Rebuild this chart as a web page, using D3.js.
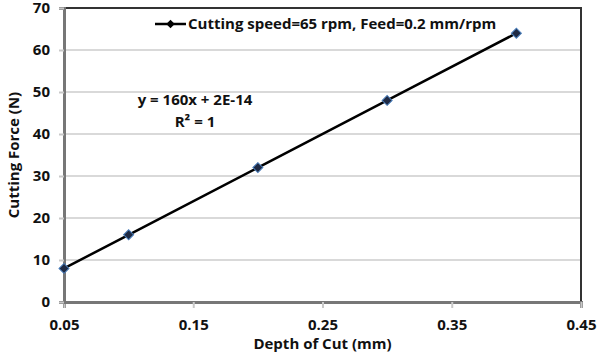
<!DOCTYPE html>
<html>
<head>
<meta charset="utf-8">
<script src="https://cdn.jsdelivr.net/npm/d3@7"></script>
<style>
  body { margin: 0; background: #fff; }
  text { font-family: "Open Sans", "DejaVu Sans", sans-serif; font-weight: bold; fill: #111; }
</style>
</head>
<body>
<div class="chart-container"></div>
<script>
// Data
var depthOfCut = [0.05, 0.1, 0.2, 0.3, 0.4];
var cuttingForce = [8, 16, 32, 48, 64];
var xTicks = [0.05, 0.15, 0.25, 0.35, 0.45];
var yTicks = [0, 10, 20, 30, 40, 50, 60, 70];
var seriesName = "Cutting speed=65 rpm, Feed=0.2 mm/rpm";
var trendLines = ["y = 160x + 2E-14", "R² = 1"];

// Set Margin
var margin = { top: 8, right: 17, bottom: 61, left: 64 },
    width = 598 - margin.left - margin.right,
    height = 363 - margin.top - margin.bottom;

var x = d3.scaleLinear().domain([0.05, 0.45]).range([0, width]);
var y = d3.scaleLinear().domain([0, 70]).range([height, 0]);

var svg = d3.select('.chart-container').append("svg")
    .attr("width", 598)
    .attr("height", 363)
    .append("g")
    .attr("transform", "translate(" + margin.left + "," + margin.top + ")");

// gridlines
svg.selectAll(".grid")
    .data(yTicks.slice(1))
    .enter().append("line")
    .attr("x1", 0).attr("x2", width)
    .attr("y1", function(d) { return y(d); })
    .attr("y2", function(d) { return y(d); })
    .attr("stroke", "#b3b3b3")
    .attr("stroke-width", 1);

// plot frame
svg.append("rect")
    .attr("width", width).attr("height", height)
    .attr("fill", "none")
    .attr("stroke", "#333")
    .attr("stroke-width", 2);

// x axis
var xAxis = svg.append("g")
    .attr("transform", "translate(0," + height + ")")
    .call(d3.axisBottom(x).tickValues(xTicks).tickFormat(d3.format(".2f")).tickSize(6).tickPadding(11));
xAxis.select(".domain").attr("stroke", "#777").attr("stroke-width", 3);
xAxis.selectAll(".tick line").attr("stroke", "#c8c8c8").attr("stroke-width", 2);
xAxis.selectAll("text").style("font-size", "15px").attr("fill", "#111");

// y axis
var yAxis = svg.append("g")
    .call(d3.axisLeft(y).tickValues(yTicks).tickSize(5).tickPadding(9));
yAxis.select(".domain").attr("stroke", "#777").attr("stroke-width", 3);
yAxis.selectAll(".tick line").attr("stroke", "#c8c8c8").attr("stroke-width", 2);
yAxis.selectAll("text").style("font-size", "15px").attr("fill", "#111");

// line
var pts = depthOfCut.map(function(d, i) { return [d, cuttingForce[i]]; });
svg.append("path")
    .datum(pts)
    .attr("fill", "none")
    .attr("stroke", "#000")
    .attr("stroke-width", 2.5)
    .attr("d", d3.line().x(function(d) { return x(d[0]); }).y(function(d) { return y(d[1]); }));

// square markers turned 45 degrees
var marker = d3.symbol().type(d3.symbolSquare).size(50);
svg.selectAll(".pt")
    .data(pts)
    .enter().append("path")
    .attr("transform", function(d) { return "translate(" + x(d[0]) + "," + y(d[1]) + ") rotate(45)"; })
    .attr("d", marker)
    .attr("fill", "#1f2a44")
    .attr("stroke", "#4a7ebb")
    .attr("stroke-width", 1);

// legend
var legend = svg.append("g").attr("transform", "translate(91,16)");
legend.append("line").attr("x1", 0).attr("x2", 31).attr("stroke", "#000").attr("stroke-width", 2.5);
legend.append("path").attr("transform", "translate(15.5,0) rotate(45)")
    .attr("d", d3.symbol().type(d3.symbolSquare).size(36)).attr("fill", "#000");
legend.append("text").attr("x", 33).attr("dy", "0.35em")
    .style("font-size", "15px").text(seriesName);

// trendline equation
svg.selectAll(".eq")
    .data(trendLines)
    .enter().append("text")
    .attr("x", 131)
    .attr("y", function(d, i) { return 97 + i * 22; })
    .attr("text-anchor", "middle")
    .style("font-size", "15px")
    .text(function(d) { return d; });

// axis titles
svg.append("text")
    .attr("x", width / 2)
    .attr("y", height + 47)
    .attr("text-anchor", "middle")
    .style("font-size", "15px")
    .text("Depth of Cut (mm)");

svg.append("text")
    .attr("transform", "rotate(-90)")
    .attr("x", -147)
    .attr("y", -45)
    .attr("text-anchor", "middle")
    .style("font-size", "15px")
    .text("Cutting Force (N)");
</script>
</body>
</html>
